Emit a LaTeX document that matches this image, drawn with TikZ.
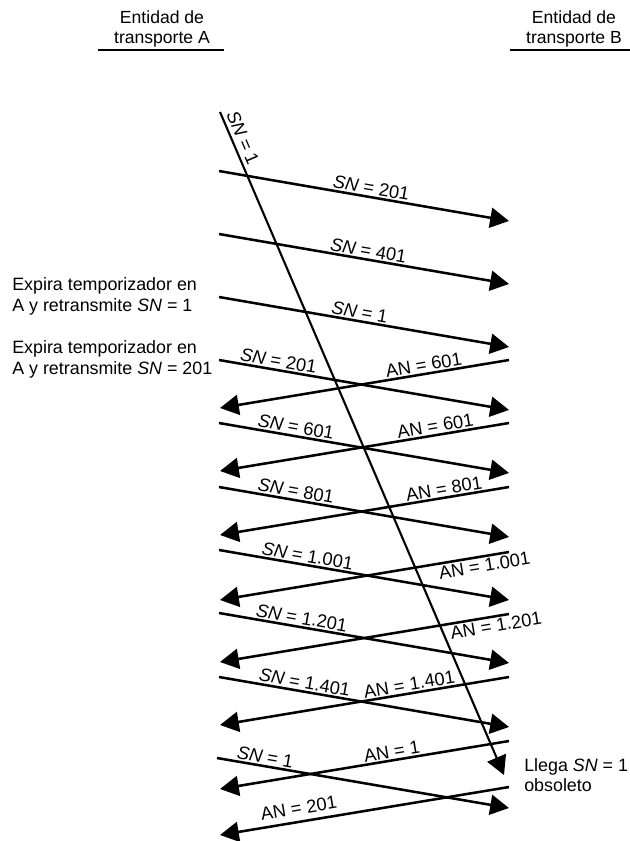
\documentclass[tikz,border=0pt]{standalone}
\usepackage{fontspec}
\setmainfont{Liberation Sans}
\usetikzlibrary{arrows.meta}
\usetikzlibrary{math}

\tikzset{
msg/.style={line width=1.8pt,-{Triangle[length=0.47cm,width=0.5cm]}},
lbl/.style={sloped,above,inner sep=1pt},
lblb/.style={sloped,below,inner sep=1pt},
note/.style={align=left,anchor=west,inner sep=0pt,font=\fontsize{12.7}{14.6}\selectfont}
}

\begin{document}
\begin{tikzpicture}[x=0.025cm,y=-0.025cm,font=\fontsize{13}{14.6}\selectfont]
\tikzmath{
\xa=219;
\xb=509;
\d=50;
\e=48;
}
\useasboundingbox (0,0) rectangle (630,841);

%headers
\node[align=center,inner sep=0pt,font=\fontsize{12.5}{14.6}\selectfont] (hdrA) at (162,29) {Entidad de\\transporte A};
\node[align=center,inner sep=0pt,font=\fontsize{12.5}{14.6}\selectfont] (hdrB) at (574,29) {Entidad de\\transporte B};
\draw[line width=1.2pt] (98,50) -- (224,50);
\draw[line width=1.2pt] (510,50) -- (630,50);

%notes
\node[note] (to1) at (12,296.5) {Expira temporizador en\\A y retransmite \textit{SN} = 1};
\node[note] (to2) at (12,359.5) {Expira temporizador en\\A y retransmite \textit{SN} = 201};
\node[note] (late) at (524,775) {Llega \textit{SN} = 1\\obsoleto};

%old segment
\coordinate (oldA) at (220,112);
\coordinate (oldB) at (504,775);
\draw[msg,line width=1.5pt] (oldA) -- (oldB) node[lbl,inner sep=2.5pt,pos=0.045] {\textit{SN} = 1};

%segments from A
\coordinate (snA1) at (\xa,171);  \coordinate (snB1) at (\xb,171+\d);
\coordinate (snA2) at (\xa,234);  \coordinate (snB2) at (\xb,234+\d);
\coordinate (snA3) at (\xa,297);  \coordinate (snB3) at (\xb,297+\d);
\coordinate (snA4) at (\xa,360);  \coordinate (snB4) at (\xb,360+\d);
\coordinate (snA5) at (\xa,423);  \coordinate (snB5) at (\xb,423+\d);
\coordinate (snA6) at (\xa,487);  \coordinate (snB6) at (\xb,487+\d);
\coordinate (snA7) at (\xa,550);  \coordinate (snB7) at (\xb,550+\d);
\coordinate (snA8) at (\xa,613);  \coordinate (snB8) at (\xb,613+\d);
\coordinate (snA9) at (\xa,677);  \coordinate (snB9) at (\xb,677+\d);
\coordinate (snA10) at (217,758); \coordinate (snB10) at (\xb,758+\d);

\draw[msg] (snA1) -- (snB1) node[lbl,pos=0.52] {\textit{SN} = 201};
\draw[msg] (snA2) -- (snB2) node[lbl,pos=0.51] {\textit{SN} = 401};
\draw[msg] (snA3) -- (snB3) node[lbl,pos=0.48] {\textit{SN} = 1};
\draw[msg] (snA4) -- (snB4) node[lbl,pos=0.2] {\textit{SN} = 201};
\draw[msg] (snA5) -- (snB5) node[lbl,pos=0.26] {\textit{SN} = 601};
\draw[msg] (snA6) -- (snB6) node[lbl,pos=0.26] {\textit{SN} = 801};
\draw[msg] (snA7) -- (snB7) node[lbl,pos=0.3] {\textit{SN} = 1.001};
\draw[msg] (snA8) -- (snB8) node[lbl,pos=0.28] {\textit{SN} = 1.201};
\draw[msg] (snA9) -- (snB9) node[lbl,pos=0.29] {\textit{SN} = 1.401};
\draw[msg] (snA10) -- (snB10) node[lbl,pos=0.16] {\textit{SN} = 1};

%acks from B
\coordinate (anB1) at (\xb,360); \coordinate (anA1) at (220,360+\e);
\coordinate (anB2) at (\xb,423); \coordinate (anA2) at (220,423+\e);
\coordinate (anB3) at (\xb,487); \coordinate (anA3) at (220,487+\e);
\coordinate (anB4) at (\xb,552); \coordinate (anA4) at (220,552+\e);
\coordinate (anB5) at (\xb,614); \coordinate (anA5) at (220,614+\e);
\coordinate (anB6) at (\xb,677); \coordinate (anA6) at (220,677+\e);
\coordinate (anB7) at (\xb,741); \coordinate (anA7) at (220,741+\e);
\coordinate (anB8) at (\xb,787); \coordinate (anA8) at (220,787+\e);

\draw[msg] (anB1) -- (anA1) node[lbl,pos=0.29] {AN = 601};
\draw[msg] (anB2) -- (anA2) node[lbl,pos=0.25] {AN = 601};
\draw[msg] (anB3) -- (anA3) node[lbl,pos=0.22] {AN = 801};
\draw[msg] (anB4) -- (anA4) node[lblb,pos=0.09] {AN = 1.001};
\draw[msg] (anB5) -- (anA5) node[lblb,pos=0.05] {AN = 1.201};
\draw[msg] (anB6) -- (anA6) node[lbl,pos=0.34] {AN = 1.401};
\draw[msg] (anB7) -- (anA7) node[lbl,pos=0.4] {AN = 1};
\draw[msg] (anB8) -- (anA8) node[lbl,pos=0.72,yshift=3pt] {AN = 201};
\end{tikzpicture}
\end{document}
